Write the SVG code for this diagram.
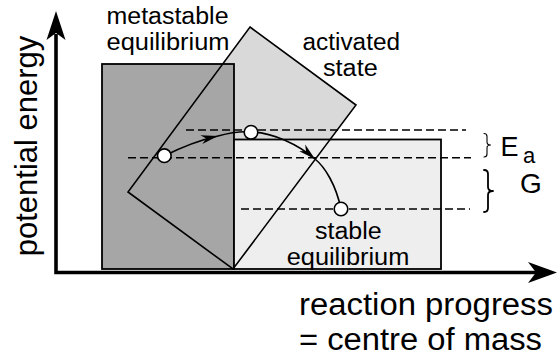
<svg xmlns="http://www.w3.org/2000/svg" xmlns:xlink="http://www.w3.org/1999/xlink" width="557" height="356" viewBox="0 0 557 356">
  <style>
    .lbl { font-family: "Liberation Sans", Arial, sans-serif; font-size: 23.5px; fill: #000; }
    .axl { font-family: "Liberation Sans", Arial, sans-serif; font-size: 31px; fill: #000; }
    .sym { font-family: "Liberation Sans", Arial, sans-serif; fill: #000; }
    .box { stroke: #000; stroke-width: 1.8; }
    .lvl { stroke: #000; stroke-width: 1.5; stroke-dasharray: 8 4; fill: none; }
    .path { stroke: #000; stroke-width: 1.6; fill: none; }
    .state { fill: #fff; stroke: #000; stroke-width: 1.6; }
    .brace { stroke: #000; fill: none; stroke-linecap: round; stroke-linejoin: round; }
  </style>
  <defs>
    <polygon id="act-shape" points="250,27 356,105 233,269 128,192"/>
    <marker id="ah" markerUnits="userSpaceOnUse" orient="auto" overflow="visible" markerWidth="1" markerHeight="1" refX="0" refY="0">
      <path d="M0,0 L-17,-4.5 L-12,0 L-17,4.5 Z" fill="#000"/>
    </marker>
  </defs>

  <rect width="557" height="356" fill="#fff"/>

  <g id="activated-state">
    <use xlink:href="#act-shape" href="#act-shape" fill="#d9d9d9" stroke="none"/>
  </g>

  <g id="metastable-equilibrium">
    <rect class="box" x="102" y="64" width="132" height="205" fill="#a6a6a6"/>
  </g>

  <g id="stable-equilibrium">
    <rect class="box" x="234" y="139.5" width="207" height="129.5" fill="#eeeeee"/>
  </g>

  <g id="activated-state-outline">
    <use xlink:href="#act-shape" href="#act-shape" fill="none" stroke="#000" stroke-width="1.6" stroke-linejoin="miter"/>
  </g>

  <g id="axes">
    <path d="M56,34 L56,272.5 L537,272.5" fill="none" stroke="#000" stroke-width="3.6"/>
    <polygon points="56,11 46.5,40 56,33 65.5,40" fill="#000"/>
    <polygon points="557,272.5 528,262 536,272.5 528,283" fill="#000"/>
  </g>

  <g id="levels">
    <line class="lvl" x1="186" y1="130" x2="466" y2="130"/>
    <line class="lvl" x1="128" y1="157.7" x2="471" y2="157.7"/>
    <line class="lvl" x1="241" y1="209" x2="470" y2="209"/>
  </g>

  <g id="connectors">
    <path class="path" d="M164,156 C180,148 200,140 218,136" marker-end="url(#ah)"/>
    <path class="path" d="M218,136 C229,133 240,131 251,132 C272,132 299,145 315,159" marker-end="url(#ah)"/>
    <path class="path" d="M315,159 C325,167 336,185 341,209"/>
  </g>

  <g id="states">
    <circle class="state" cx="164.3" cy="155.7" r="6.8"/>
    <circle class="state" cx="251" cy="132.3" r="6.8"/>
    <circle class="state" cx="341" cy="209" r="6.8"/>
  </g>

  <g id="braces">
    <path class="brace" stroke-width="1.1" d="M484,133.5 Q487,133.5 487,136.5 L487,142 Q487,145 490.5,145 Q487,145 487,148 L487,154 Q487,157 484,157"/>
    <path class="brace" stroke-width="1.8" d="M484,170 Q488,170 488,174 L488,187 Q488,191 493,191 Q488,191 488,195 L488,208 Q488,212 484,212"/>
  </g>

  <g id="labels">
    <text class="lbl" x="106.5" y="24" textLength="122" lengthAdjust="spacingAndGlyphs">metastable</text>
    <text class="lbl" x="106.5" y="50.3" textLength="123" lengthAdjust="spacingAndGlyphs">equilibrium</text>
    <text class="lbl" x="302.5" y="50" textLength="97.5" lengthAdjust="spacingAndGlyphs">activated</text>
    <text class="lbl" x="323" y="76.3" textLength="54.7" lengthAdjust="spacingAndGlyphs">state</text>
    <text class="lbl" x="315" y="239" textLength="66.7" lengthAdjust="spacingAndGlyphs">stable</text>
    <text class="lbl" x="286.7" y="265.3" textLength="122.6" lengthAdjust="spacingAndGlyphs">equilibrium</text>
    <text class="axl" x="299" y="315" textLength="254" lengthAdjust="spacingAndGlyphs">reaction progress</text>
    <text class="axl" x="299" y="349.5" textLength="243" lengthAdjust="spacingAndGlyphs">= centre of mass</text>
    <text class="axl" font-size="33" transform="translate(37,146) rotate(-90)" text-anchor="middle">potential energy</text>
    <text class="sym" font-size="27" x="500.5" y="156">E</text>
    <text class="sym" font-size="22" x="523" y="163">a</text>
    <text class="sym" font-size="28" x="520" y="193.3">G</text>
  </g>
</svg>
